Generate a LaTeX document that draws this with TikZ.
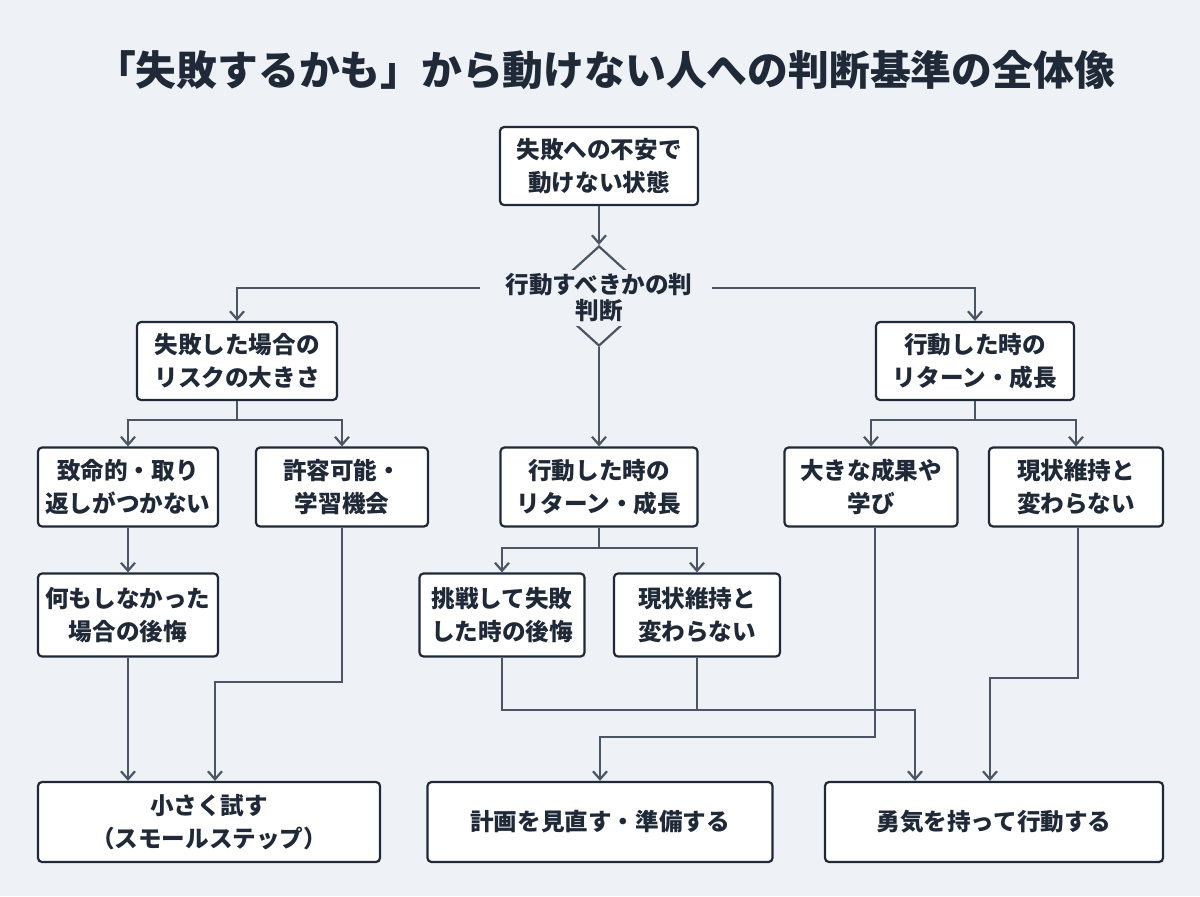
\documentclass[tikz,border=0pt]{standalone}
\usepackage{fontspec}
\newfontfamily\jp{Noto Sans CJK JP}
\usetikzlibrary{arrows.meta,shapes.geometric}
\definecolor{bg}{HTML}{EEF2F7}
\definecolor{ink}{HTML}{1F2937}
\definecolor{ln}{HTML}{4B5563}
\begin{document}
\begin{tikzpicture}[x=0.5pt,y=-0.5pt,
 box/.style={draw=ink,line width=1.1pt,rounded corners=2pt,fill=white,align=center,font=\jp\bfseries\fontsize{11.8}{16.5}\selectfont,text=ink,inner sep=0pt},
 con/.style={draw=ln,line width=1.1pt},
 arr/.style={con,-{Straight Barb[length=4pt,width=7pt,line width=1.1pt]}}]
\fill[bg] (0,0) rectangle (1200,896);
\useasboundingbox (0,0) rectangle (1200,896);
\node[font=\jp\bfseries\fontsize{20.4}{24}\selectfont,text=ink] (title) at (605,70) {「失敗するかも」から動けない人への判断基準の全体像};
\newcommand\bx[6]{\node[box,minimum width=#3*0.5pt,minimum height=#4*0.5pt] (#1) at (#2) {#5};}
\bx{top}{599,166}{198}{78}{失敗への不安で\\動けない状態}{}
\bx{L1}{237,361}{200}{78}{失敗した場合の\\リスクの大きさ}{}
\bx{R1}{975,361}{198}{78}{行動した時の\\リターン・成長}{}
\bx{M1}{599,487}{197}{79}{行動した時の\\リターン・成長}{}
\bx{L2a}{128,487}{180}{79}{致命的・取り\\返しがつかない}{}
\bx{L2b}{342,487}{172}{79}{許容可能・\\学習機会}{}
\bx{R2a}{871,487}{173}{79}{大きな成果や\\学び}{}
\bx{R2b}{1076,487}{174}{79}{現状維持と\\変わらない}{}
\bx{L3}{128,615}{180}{83}{何もしなかった\\場合の後悔}{}
\bx{M2a}{502,615}{165}{83}{挑戦して失敗\\した時の後悔}{}
\bx{M2b}{697,615}{166}{83}{現状維持と\\変わらない}{}
\bx{B1}{209,822}{342}{80}{小さく試す\\（スモールステップ）}{}
\bx{B2}{600,822}{345}{80}{計画を見直す・準備する}{}
\bx{B3}{994,822}{338}{80}{勇気を持って行動する}{}
% decision
\node[draw=ln,line width=1.1pt,diamond,minimum width=110*0.5pt,minimum height=100*0.5pt,inner sep=0pt] (dia) at (599,296) {};
\node[fill=bg,inner sep=2pt,align=center,font=\jp\bfseries\fontsize{11.8}{13}\selectfont,text=ink] (dt) at (599,298) {行動すべきかの判\\判断};
\draw[arr] (top) -- (dia.north);
\coordinate (dl) at (480,288); \coordinate (dr) at (712,288);
\draw[arr] (dl) -| (L1.north);
\draw[arr] (dr) -| (R1.north);
\draw[arr] (dia.south) -- (M1.north);
\coordinate (lj) at (237,420); \coordinate (rj) at (975,420); \coordinate (mj) at (599,548);
\draw[con] (L1.south) -- (lj);
\draw[arr] (lj) -| (L2a.north); \draw[arr] (lj) -| (L2b.north);
\draw[con] (R1.south) -- (rj);
\draw[arr] (rj) -| (R2a.north); \draw[arr] (rj) -| (R2b.north);
\draw[con] (M1.south) -- (mj);
\draw[arr] (mj) -| (M2a.north); \draw[arr] (mj) -| (M2b.north);
\draw[arr] (L2a) -- (L3);
\draw[arr] (L3) -- (L3|-B1.north);
\coordinate (p1) at (342,682); \coordinate (p1b) at (215,682);
\draw[arr] (L2b.south-|p1) -- (p1) -- (p1b) -- (p1b|-B1.north);
\coordinate (p2) at (502,710); \coordinate (p2b) at (915,710);
\draw[arr] (M2a.south) -- (p2) -- (p2b) -- (p2b|-B3.north);
\draw[con] (M2b.south) -- (697,710);
\coordinate (p3) at (875,737); \coordinate (p3b) at (600,737);
\draw[arr] (R2a.south-|p3) -- (p3) -- (p3b) -- (B2.north);
\coordinate (p4) at (1078,678); \coordinate (p4b) at (990,678);
\draw[arr] (R2b.south-|p4) -- (p4) -- (p4b) -- (p4b|-B3.north);
\end{tikzpicture}
\end{document}
